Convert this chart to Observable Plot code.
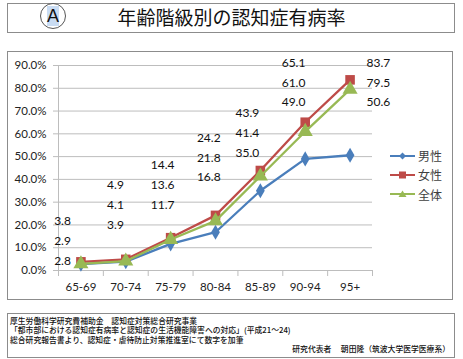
<!DOCTYPE html>
<html><head><meta charset="utf-8">
<script src="https://cdn.jsdelivr.net/npm/d3@7"></script>
<script src="https://cdn.jsdelivr.net/npm/@observablehq/plot@0.6"></script>
<style>
body{margin:0;background:#fff;}
#page{position:relative;width:463px;height:359px;overflow:hidden;font-family:"Noto Sans CJK JP",sans-serif;}
.box{position:absolute;border:1px solid #8c8c8c;box-sizing:border-box;}
#chart{position:absolute;left:0;top:51px;}
#title{left:7px;top:3px;width:448px;height:30px;}
#titleText{position:absolute;left:0;width:463px;top:5px;text-align:center;font-size:19px;line-height:24px;color:#111;}
#circle{position:absolute;left:40px;top:3px;width:26px;height:26px;border:1px solid #555;border-radius:50%;box-sizing:border-box;text-align:center;font-family:"Liberation Sans",Arial,sans-serif;font-size:18px;line-height:25px;color:#111;}
#circle span{background:#c9dcf3;}
#cbox{left:7px;top:51px;width:446px;height:249px;}
#fbox{left:7px;top:313px;width:448px;height:45px;}
#foot{position:absolute;left:10px;top:315.5px;width:443px;font-size:7.8px;line-height:9.6px;color:#111;font-weight:500;white-space:nowrap;}
#foot div{height:9.6px;}
#legend{position:absolute;left:390px;top:146px;font-size:12px;color:#404040;}
.li{height:19.3px;display:flex;align-items:center;}
.li svg{margin-right:3px;}
</style></head>
<body><div id="page">
<div class="box" id="title"></div>
<div id="circle"><span>A</span></div>
<div id="titleText">年齢階級別の認知症有病率</div>
<div class="box" id="cbox"></div>
<div id="chart"></div>
<div id="legend"></div>
<div class="box" id="fbox"></div>
<div id="foot">
<div>厚生労働科学研究費補助金　認知症対策総合研究事業</div>
<div>「都市部における認知症有病率と認知症の生活機能障害への対応」(平成21～24)</div>
<div>総合研究報告書より、認知症・虐待防止対策推進室にて数字を加筆</div>
<div style="text-align:right;padding-right:3px;">研究代表者　 朝田隆（筑波大学医学医療系）</div>
</div>
</div>
<script>
const categories = ["65-69","70-74","75-79","80-84","85-89","90-94","95+"];
const male   = [2.8, 3.9, 11.7, 16.8, 35.0, 49.0, 50.6];
const female = [3.8, 4.9, 14.4, 24.2, 43.9, 65.1, 83.7];
const total  = [2.9, 4.1, 13.6, 21.8, 41.4, 61.0, 79.5];
const seriesNames = ["男性","女性","全体"];
const yTicks = [0,10,20,30,40,50,60,70,80,90];
// where the value text block of each age group sits (value units / category units)
const labelTop = [21.5, 37.3, 46.1, 58.0, 68.9, 90.9, 90.9];
const labelShift = [-0.41, -0.23, -0.18, -0.15, -0.29, -0.26, 0.63];
const labelStep = 8.6; // vertical spacing of the text rows, in value units

const colors = {"男性":"#4a7ebb","女性":"#be4b48","全体":"#98b954"};
const symbols = {"男性":"diamond","女性":"square","全体":"triangle"};
const sizes = {"男性":4.6,"女性":5.4,"全体":5.6};

const seriesVals = [male, female, total];
const rows = [];
seriesNames.forEach((s,si)=>categories.forEach((c,i)=>rows.push({s, i, v: seriesVals[si][i]})));
// labels: female top, total middle, male bottom
const labelRows = [];
categories.forEach((c,i)=>{
  [[female,0],[total,1],[male,2]].forEach(([arr,k])=>labelRows.push({i, k, v: arr[i], x: i+labelShift[i], y: labelTop[i]-k*labelStep}));
});

const font = "Lato, 'Open Sans', sans-serif";
const marks = [
  Plot.gridY(yTicks, {stroke:"#bdbdbd", strokeOpacity:1}),
  Plot.axisY(yTicks, {tickSize:5, tickPadding:7, stroke:"#bdbdbd", fill:"#222", fontSize:11.5, tickFormat: d => d.toFixed(1)+"%", label:null}),
  Plot.ruleX([-0.5], {stroke:"#bdbdbd"}),
  Plot.ruleY([0], {stroke:"#bdbdbd"}),
  Plot.axisX(d3.range(-0.5, 7, 1), {tickSize:6, stroke:"#bdbdbd", tickFormat: () => "", label:null}),
  Plot.axisX(d3.range(0,7), {tickSize:0, tickPadding:12, fill:"#222", fontSize:11.5, tickFormat: i => categories[i], label:null}),
];
for (const s of seriesNames) {
  const d = rows.filter(r=>r.s===s);
  marks.push(Plot.line(d, {x:"i", y:"v", stroke: colors[s], strokeWidth:2.3}));
  marks.push(Plot.dot(d, {x:"i", y:"v", fill: colors[s], stroke:"none", symbol: symbols[s], r: sizes[s]}));
}
marks.push(Plot.text(labelRows, {x:"x", y:"y", text: d => d.v.toFixed(1), fill:"#111", fontSize:12}));

const chart = Plot.plot({
  width:463, height:248,
  marginLeft:58, marginRight:91, marginTop:14, marginBottom:29,
  style:{background:"transparent", fontFamily: font},
  x:{type:"linear", domain:[-0.5,6.5], axis:null},
  y:{domain:[0,90], axis:null},
  marks
});
document.getElementById("chart").appendChild(chart);

// legend
const lg = document.getElementById("legend");
const sym = {
  "男性": '<path d="M12.5 -3.5 L16 0 L12.5 3.5 L9 0 Z"/>',
  "女性": '<rect x="9" y="-3.5" width="7" height="7"/>',
  "全体": '<path d="M12.5 -3.5 L16.5 3 L8.5 3 Z"/>'
};
for (const s of seriesNames) {
  const div = document.createElement("div");
  div.className = "li";
  div.innerHTML = `<svg width="25" height="10" viewBox="0 -5 25 10"><line x1="0" x2="25" y1="0" y2="0" stroke="${colors[s]}" stroke-width="2"/><g fill="${colors[s]}">${sym[s]}</g></svg><span>${s}</span>`;
  lg.appendChild(div);
}
</script>
</body></html>
